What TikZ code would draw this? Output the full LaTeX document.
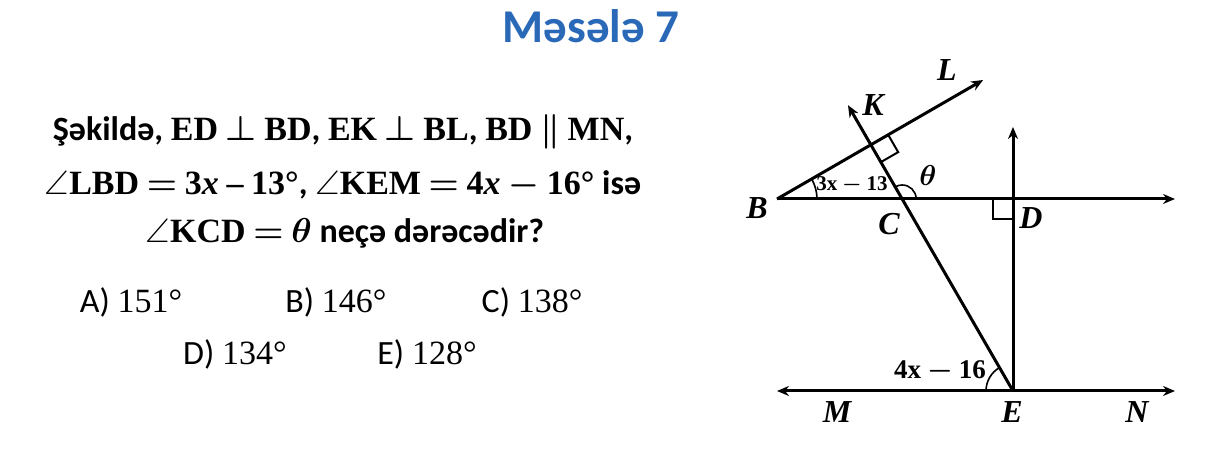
\documentclass[tikz,border=0pt]{standalone}
\usepackage{amsmath, amssymb}
\usepackage[no-math]{fontspec}
\setmainfont{Carlito}
\newfontfamily\serif{Liberation Serif}
\newcommand{\serb}[1]{{\serif\bfseries #1}}
\newcommand{\serbi}[1]{{\serif\bfseries\itshape #1}}
\usepackage{tikz}
\usetikzlibrary{arrows.meta, positioning, calc, angles}
\definecolor{titleblue}{RGB}{42,104,184}

\begin{document}
\begin{tikzpicture}[x=0.5pt, y=0.5pt,
    ray/.style={line width=1.5pt, -{Stealth[length=6pt, width=5pt]}},
    ptlabel/.style={font=\fontsize{16}{18}\selectfont\serif\bfseries\itshape},
    textline/.style={font=\fontsize{17}{20}\selectfont\bfseries\boldmath},
    choice/.style={font=\fontsize{17}{20}\selectfont}]
                \useasboundingbox (0,0) rectangle (1228,460);
                % question text
                \node[font=\fontsize{23.5}{28}\selectfont\bfseries, text=titleblue] (title) at (591,434) {Məsələ 7};
                \node[textline] (line1) at (343,328) {Şəkildə, \serb{ED} $\perp$ \serb{BD}, \serb{EK} $\perp$ \serb{BL}, \serb{BD} $\parallel$ \serb{MN},};
                \node[textline] (line2) at (343,275) {$\angle$\serb{LBD} $=$ \serb{3}\serbi{x} \serb{–} \serb{13°}, $\angle$\serb{KEM} $=$ \serb{4}\serbi{x} $-$ \serb{16°} isə};
                \node[textline] (line3) at (345,227) {$\angle$\serb{KCD} $=$ $\theta$ neçə dərəcədir?};
                \node[choice] (optA) at (131,158) {A) {\serif 151°}};
                \node[choice] (optB) at (336,158) {B) {\serif 146°}};
                \node[choice] (optC) at (532,158) {C) {\serif 138°}};
                \node[choice] (optD) at (235,106) {D) {\serif 134°}};
                \node[choice] (optE) at (427,106) {E) {\serif 128°}};
                % figure
                \coordinate (B) at (777,261);
                \coordinate (D) at (1013,261);
                \coordinate (E) at (1013,69);
                \coordinate (L) at ($(B)+(30:238)$);
                \coordinate (K) at ($(E)+(120:330)$);
                \coordinate (Dend) at (1175,261);
                \coordinate (Dtop) at (1013,333);
                \coordinate (M) at (777,69);
                \coordinate (N) at (1175,69);
                \coordinate (C) at (intersection of E--K and B--D);
                \coordinate (F) at ($(B)!(E)!(L)$);
                \draw[ray] (B) -- (L);
                \draw[ray] (B) -- (Dend);
                \draw[ray] (E) -- (K);
                \draw[ray] (E) -- (Dtop);
                \draw[ray, {Stealth[length=6pt, width=5pt]}-{Stealth[length=6pt, width=5pt]}] (M) -- (N);
                \pic[draw, line width=1pt, angle radius=10pt] {right angle=L--F--E};
                \pic[draw, line width=1pt, angle radius=10pt] {right angle=B--D--E};
                \pic[draw, line width=0.8pt, angle radius=20pt] {angle=D--B--L};
                \pic[draw, line width=0.8pt, angle radius=7pt] {angle=D--C--K};
                \pic[draw, line width=0.8pt, angle radius=13.5pt] {angle=K--E--M};
                \node[ptlabel] (labB) at (757,252) {B};
                \node[ptlabel] (labC) at (889,236) {C};
                \node[ptlabel] (labD) at (1031,242) {D};
                \node[ptlabel] (labK) at (873,355) {K};
                \node[ptlabel] (labL) at (947,390) {L};
                \node[ptlabel] (labM) at (837,48) {M};
                \node[ptlabel] (labE) at (1012,48) {E};
                \node[ptlabel] (labN) at (1137,48) {N};
                \node[font=\fontsize{15}{18}\selectfont\boldmath] (theta) at (928,284) {$\theta$};
                \node[font=\fontsize{10.5}{12}\selectfont\boldmath] (angB) at (852,275) {\serb{3x} $-$ \serb{13}};
                \node[font=\fontsize{13.5}{16}\selectfont\boldmath] (angE) at (940,89) {\serb{4x} $-$ \serb{16}};
            \end{tikzpicture}
\end{document}
